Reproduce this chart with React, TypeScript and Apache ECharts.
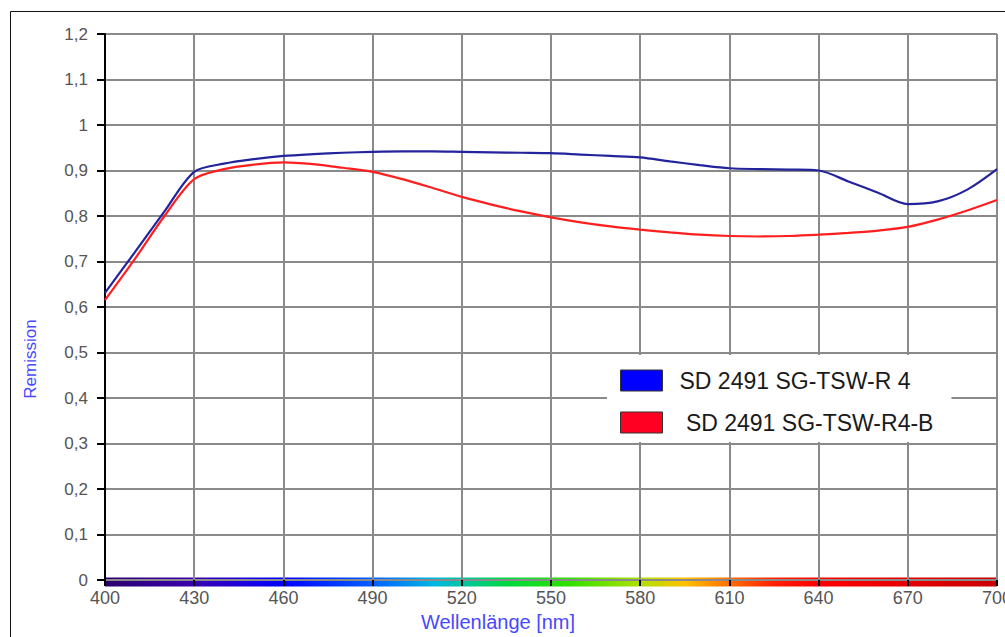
import React, { useEffect, useRef } from "react";
import * as echarts from "echarts";

const wavelengths = [
  400, 410, 420, 430, 440, 450, 460, 470, 480, 490, 500, 510, 520, 530, 540, 550,
  560, 570, 580, 590, 600, 610, 620, 630, 640, 650, 660, 670, 680, 690, 700,
];
const seriesNames = ["SD 2491 SG-TSW-R 4", " SD 2491 SG-TSW-R4-B"];
const blueValues = [
  0.631, 0.72, 0.81, 0.897, 0.915, 0.925, 0.932, 0.936, 0.939, 0.941, 0.942, 0.942, 0.941,
  0.94, 0.939, 0.938, 0.935, 0.932, 0.929, 0.92, 0.912, 0.905, 0.903, 0.902, 0.9, 0.876,
  0.851, 0.826, 0.832, 0.858, 0.903,
];
const redValues = [
  0.615, 0.705, 0.8, 0.881, 0.903, 0.913, 0.918, 0.914, 0.906, 0.897, 0.881, 0.862, 0.842,
  0.825, 0.81, 0.797, 0.786, 0.777, 0.77, 0.764, 0.759, 0.756, 0.755, 0.756, 0.759, 0.763,
  0.768, 0.776, 0.792, 0.812, 0.835,
];
const yAxisName = "Remission";
const xAxisName = "Wellenlänge [nm]";

export default function App() {
  const ref = useRef<HTMLDivElement>(null);
  useEffect(() => {
    document.body.style.margin = "0";
    const chart = echarts.init(ref.current!, null, { renderer: "svg" });
    const gridLeft = 105;
    const gridRight = 8;
    const gridTop = 34;
    const gridBottom = 57;
    const plotW = 1005 - gridLeft - gridRight;
    const font = "Arial, Liberation Sans";
    chart.setOption({
      animation: false,
      backgroundColor: "#ffffff",
      grid: {
        left: gridLeft,
        right: gridRight,
        top: gridTop,
        bottom: gridBottom,
        containLabel: false,
        outerBoundsMode: "none",
      },
      xAxis: {
        type: "category",
        data: wavelengths.map(String),
        boundaryGap: false,
        z: 3,
        axisLine: { show: false },
        axisTick: { show: true, interval: 2, length: 6, inside: false, lineStyle: { color: "#000", width: 2 } },
        axisLabel: { interval: 2, color: "#555", fontSize: 18, fontFamily: font, margin: 9 },
        splitLine: { show: true, interval: 2, lineStyle: { color: "#8a8a8a", width: 2 } },
      },
      yAxis: {
        type: "value",
        min: 0,
        max: 1.2,
        interval: 0.1,
        z: 3,
        axisLine: { show: true, lineStyle: { color: "#000", width: 2 } },
        axisTick: { show: true, length: 8, lineStyle: { color: "#000", width: 2 } },
        axisLabel: {
          color: "#555",
          fontSize: 17,
          fontFamily: font,
          margin: 17,
          formatter: (v: number) => String(Math.round(v * 10) / 10).replace(".", ","),
        },
        splitLine: { show: true, lineStyle: { color: "#8a8a8a", width: 2 } },
      },
      legend: {
        orient: "vertical",
        left: 607,
        top: 355,
        backgroundColor: "#ffffff",
        padding: [14, 18, 8, 13],
        itemWidth: 42,
        itemHeight: 21,
        itemGap: 19,
        icon: "rect",
        z: 4,
        textStyle: { color: "#1a1a1a", fontSize: 23, fontFamily: font, padding: [0, 0, 0, 12] },
        data: [
          { name: seriesNames[0], itemStyle: { color: "#0000ff", borderColor: "#333", borderWidth: 1 } },
          { name: seriesNames[1], itemStyle: { color: "#ff0022", borderColor: "#333", borderWidth: 1 } },
        ],
      },
      graphic: [
        {
          type: "rect",
          z: 0,
          silent: true,
          shape: { x: 10.5, y: 11.5, width: 1200, height: 800 },
          style: { fill: "none", stroke: "#111", lineWidth: 1 },
        },
        {
          type: "rect",
          z: 2,
          silent: true,
          shape: { x: gridLeft, y: 577.5, width: plotW, height: 9 },
          style: {
            fill: new echarts.graphic.LinearGradient(0, 0, 1, 0, [
              { offset: 0, color: "#2a006a" },
              { offset: 0.1, color: "#3a00b0" },
              { offset: 0.2, color: "#0000ff" },
              { offset: 0.3, color: "#0060ff" },
              { offset: 0.37, color: "#00b8e0" },
              { offset: 0.45, color: "#00d840" },
              { offset: 0.52, color: "#30e000" },
              { offset: 0.6, color: "#b0e000" },
              { offset: 0.65, color: "#ffc000" },
              { offset: 0.7, color: "#ff7000" },
              { offset: 0.75, color: "#ff2000" },
              { offset: 0.8, color: "#ff0000" },
              { offset: 1, color: "#c80000" },
            ]),
          },
        },
        {
          type: "text",
          z: 3,
          silent: true,
          x: 30,
          y: 359,
          rotation: Math.PI / 2,
          style: {
            text: yAxisName,
            fill: "#4848ff",
            fontSize: 17,
            fontFamily: font,
            align: "center",
            verticalAlign: "middle",
          },
        },
        {
          type: "text",
          z: 3,
          silent: true,
          x: 498,
          y: 622,
          style: {
            text: xAxisName,
            fill: "#4848ff",
            fontSize: 20,
            fontFamily: font,
            align: "center",
            verticalAlign: "middle",
          },
        },
      ],
      series: [
        {
          name: seriesNames[0],
          type: "line",
          data: blueValues,
          smooth: 0.3,
          showSymbol: false,
          z: 3,
          itemStyle: { color: "#0000ff" },
          lineStyle: { color: "#23239c", width: 2.2 },
        },
        {
          name: seriesNames[1],
          type: "line",
          data: redValues,
          smooth: 0.3,
          showSymbol: false,
          z: 3,
          itemStyle: { color: "#ff0022" },
          lineStyle: { color: "#ff1f1f", width: 2.2 },
        },
      ],
    });
    return () => chart.dispose();
  }, []);
  return <div ref={ref} style={{ width: 1005, height: 637 }} />;
}
